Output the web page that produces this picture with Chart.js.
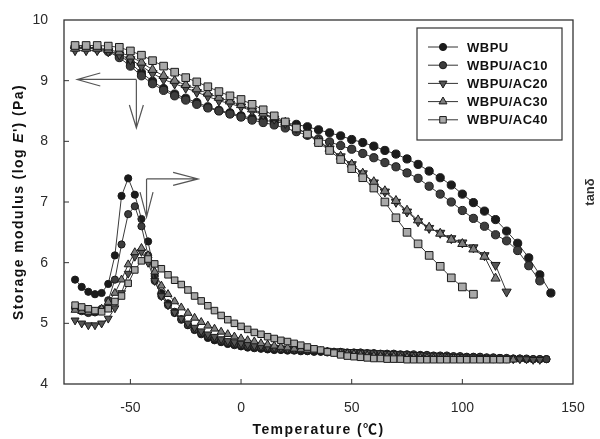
<!DOCTYPE html>
<html>
<head>
<meta charset="utf-8">
<script src="https://cdn.jsdelivr.net/npm/chart.js@4.4.0/dist/chart.umd.min.js"></script>
<style>
  html, body { margin: 0; padding: 0; background: #fff; }
</style>
</head>
<body>
<canvas id="dma" width="600" height="439"></canvas>
<script>
// 温度 (℃) —— 储能模量 E' 的采样点
const eTemp = [-75,-70,-65,-60,-55,-50,-45,-40,-35,-30,-25,-20,-15,-10,-5,0,5,10,15,20,
  25,30,35,40,45,50,55,60,65,70,75,80,85,90,95,100,105,110,115,120,125,130,135,140];

// log E'
const eWBPU = [9.55,9.55,9.54,9.5,9.42,9.29,9.13,8.99,8.87,8.78,8.71,8.64,8.57,8.51,8.47,8.42,8.38,8.35,8.32,8.3,
  8.28,8.24,8.19,8.14,8.09,8.03,7.98,7.92,7.85,7.79,7.71,7.62,7.51,7.4,7.28,7.13,6.99,6.85,6.71,6.52,6.32,6.08,5.8,5.5];
const eAC10 = [9.55,9.55,9.53,9.48,9.38,9.24,9.08,8.95,8.84,8.75,8.68,8.61,8.55,8.5,8.45,8.4,8.35,8.31,8.27,8.22,
  8.16,8.1,8.04,7.99,7.93,7.87,7.8,7.73,7.65,7.58,7.48,7.39,7.26,7.13,7.0,6.86,6.73,6.6,6.46,6.36,6.2,5.95,5.7];
const eAC20 = [9.5,9.5,9.5,9.48,9.43,9.35,9.24,9.12,9.02,8.95,8.88,8.81,8.74,8.67,8.62,8.57,8.5,8.44,8.37,8.3,
  8.22,8.12,8.0,7.88,7.75,7.62,7.47,7.32,7.17,7.0,6.84,6.68,6.57,6.49,6.4,6.33,6.25,6.12,5.96,5.52];
const eAC30 = [9.53,9.53,9.53,9.51,9.47,9.4,9.3,9.18,9.08,9.0,8.93,8.86,8.79,8.72,8.66,8.6,8.53,8.46,8.39,8.31,
  8.22,8.12,8.0,7.88,7.75,7.62,7.47,7.33,7.18,7.02,6.86,6.7,6.58,6.48,6.38,6.31,6.22,6.1,5.74];
const eAC40 = [9.58,9.58,9.58,9.57,9.55,9.49,9.42,9.33,9.24,9.14,9.05,8.98,8.9,8.82,8.75,8.69,8.61,8.52,8.42,8.32,
  8.22,8.12,7.98,7.85,7.7,7.55,7.4,7.23,7.0,6.74,6.5,6.31,6.12,5.94,5.75,5.6,5.48];

// 温度 (℃) —— tanδ 的采样点
const tanTemp = [-75,-72,-69,-66,-63,-60,-57,-54,-51,-48,-45,-42,
  -39,-36,-33,-30,-27,-24,-21,-18,-15,-12,-9,-6,
  -3,0,3,6,9,12,15,18,21,24,27,30,
  33,36,39,42,45,48,51,54,57,60,63,66,
  69,72,75,78,81,84,87,90,93,96,99,102,
  105,108,111,114,117,120,123,126,129,132,135,138];

// tanδ（按图中位置读取，右轴无刻度）
const tanWBPU = [5.72,5.6,5.52,5.48,5.5,5.65,6.12,7.1,7.39,7.12,6.72,6.35,
  5.78,5.5,5.33,5.19,5.07,4.97,4.89,4.82,4.76,4.72,4.69,4.66,
  4.64,4.62,4.6,4.59,4.58,4.57,4.56,4.56,4.55,4.55,4.54,4.54,
  4.53,4.53,4.52,4.52,4.52,4.51,4.51,4.5,4.5,4.5,4.49,4.49,
  4.48,4.48,4.48,4.47,4.47,4.47,4.46,4.46,4.45,4.45,4.45,4.44,
  4.44,4.44,4.43,4.43,4.43,4.42,4.42,4.42,4.41,4.41,4.41,4.41];
const tanAC10 = [5.25,5.2,5.17,5.18,5.24,5.38,5.72,6.3,6.8,6.93,6.6,6.12,
  5.7,5.45,5.3,5.17,5.06,4.97,4.9,4.84,4.79,4.75,4.71,4.68,
  4.66,4.64,4.62,4.61,4.6,4.59,4.58,4.57,4.57,4.56,4.56,4.55,
  4.55,4.54,4.54,4.53,4.53,4.52,4.52,4.52,4.51,4.51,4.5,4.5,
  4.5,4.49,4.49,4.49,4.48,4.48,4.47,4.47,4.47,4.46,4.46,4.45,
  4.45,4.45,4.44,4.44,4.43,4.43,4.42,4.42,4.42,4.41,4.41,4.41];
const tanAC20 = [5.05,5.0,4.97,4.97,5.0,5.08,5.25,5.5,5.82,6.1,6.18,6.0,
  5.7,5.45,5.3,5.18,5.08,5.0,4.93,4.87,4.82,4.78,4.74,4.71,
  4.69,4.67,4.65,4.63,4.62,4.61,4.6,4.59,4.58,4.57,4.57,4.56,
  4.56,4.55,4.55,4.54,4.54,4.53,4.53,4.52,4.52,4.51,4.51,4.5,
  4.5,4.49,4.49,4.48,4.48,4.47,4.47,4.46,4.46,4.45,4.45,4.44,
  4.44,4.43,4.43,4.42,4.42,4.42,4.41,4.41,4.41,4.4,4.4];
const tanAC30 = [5.22,5.2,5.18,5.19,5.24,5.35,5.5,5.72,5.97,6.17,6.24,6.12,
  5.85,5.62,5.48,5.36,5.26,5.17,5.09,5.02,4.96,4.91,4.86,4.82,
  4.78,4.75,4.72,4.7,4.67,4.65,4.63,4.61,4.6,4.58,4.57,4.56,
  4.55,4.54,4.53,4.52,4.51,4.5,4.49,4.48,4.47,4.46,4.46,4.45,
  4.45,4.44,4.44,4.43,4.43,4.43,4.42,4.42,4.42,4.42,4.41,4.41,
  4.41,4.41,4.41,4.41,4.4,4.4,4.4];
const tanAC40 = [5.3,5.27,5.24,5.21,5.19,5.24,5.36,5.45,5.66,5.88,6.03,6.06,
  5.98,5.9,5.8,5.71,5.64,5.55,5.45,5.37,5.29,5.21,5.13,5.06,
  5.0,4.95,4.9,4.85,4.82,4.78,4.75,4.72,4.7,4.67,4.64,4.61,
  4.58,4.56,4.53,4.51,4.48,4.46,4.45,4.44,4.43,4.42,4.42,4.41,
  4.41,4.41,4.4,4.4,4.4,4.4,4.4,4.4,4.4,4.4,4.4,4.4,
  4.4,4.4,4.4,4.4,4.4,4.4];

const xTicks = [-50, 0, 50, 100, 150];
const yTicks = [4, 5, 6, 7, 8, 9, 10];

const FONT = "Arial, 'Liberation Sans', Helvetica, 'Noto Sans CJK SC', sans-serif";
const INK = '#2a2a2a';

// 样式表：名称、标记形状、填充色
const series = [
  { name: 'WBPU',      e: eWBPU, t: tanWBPU, shape: 'circle',   rot: 0,   fill: '#1b1b1b', order: 5 },
  { name: 'WBPU/AC10', e: eAC10, t: tanAC10, shape: 'circle',   rot: 0,   fill: '#3d3d3d', order: 4 },
  { name: 'WBPU/AC20', e: eAC20, t: tanAC20, shape: 'triangle', rot: 180, fill: '#555555', order: 3 },
  { name: 'WBPU/AC30', e: eAC30, t: tanAC30, shape: 'triangle', rot: 0,   fill: '#7d7d7d', order: 2 },
  { name: 'WBPU/AC40', e: eAC40, t: tanAC40, shape: 'rect',     rot: 0,   fill: '#a9a9a9', order: 1 }
];
const bigR = { circle: 4.1, triangle: 5.3, rect: 5.4 };
const smallR = { circle: 3.6, triangle: 4.6, rect: 4.6 };

function pts(temps, vals) {
  return vals.map((v, i) => ({ x: temps[i], y: v }));
}

const datasets = [];
series.forEach(s => {
  const common = {
    label: s.name,
    showLine: true,
    borderColor: '#3a3a3a',
    borderWidth: 1,
    pointStyle: s.shape,
    pointRotation: s.rot,
    pointBackgroundColor: s.fill,
    pointBorderColor: '#1a1a1a',
    pointBorderWidth: 1,
    order: s.order,
    fill: false
  };
  datasets.push(Object.assign({}, common, { data: pts(eTemp, s.e), yAxisID: 'y', pointRadius: bigR[s.shape] }));
  datasets.push(Object.assign({}, common, { data: pts(tanTemp, s.t), yAxisID: 'y2', pointRadius: smallR[s.shape] }));
});

// 画框、向内刻度、坐标轴标题、箭头、图例
const decor = {
  id: 'decor',
  beforeDatasetsDraw(chart) {
    const { ctx, chartArea: a, scales } = chart;
    ctx.save();
    ctx.strokeStyle = '#333';
    ctx.lineWidth = 1.3;
    ctx.strokeRect(a.left, a.top, a.right - a.left, a.bottom - a.top);
    ctx.lineWidth = 1;
    ctx.beginPath();
    xTicks.forEach(v => {
      const px = scales.x.getPixelForValue(v);
      if (px > a.left + 1 && px < a.right - 1) { ctx.moveTo(px, a.bottom); ctx.lineTo(px, a.bottom - 5); }
    });
    yTicks.forEach(v => {
      const py = scales.y.getPixelForValue(v);
      if (py > a.top + 1 && py < a.bottom - 1) { ctx.moveTo(a.left, py); ctx.lineTo(a.left + 5, py); }
    });
    ctx.stroke();
    ctx.restore();
  },
  afterDatasetsDraw(chart) {
    const { ctx, chartArea: a, scales } = chart;
    const X = v => scales.x.getPixelForValue(v);
    const Y = v => scales.y.getPixelForValue(v);
    ctx.save();

    // 箭头
    ctx.strokeStyle = '#555';
    ctx.lineWidth = 1.2;
    function head(tx, ty, dx, dy, len, hw) {
      const bx = tx - dx * len, by = ty - dy * len;
      ctx.moveTo(bx - dy * hw, by + dx * hw); ctx.lineTo(tx, ty); ctx.lineTo(bx + dy * hw, by - dx * hw);
    }
    ctx.beginPath();
    // E' 指向左轴
    const c1x = X(-47.3), c1y = Y(9.02);
    ctx.moveTo(c1x, c1y); ctx.lineTo(X(-74), c1y);
    ctx.moveTo(c1x, c1y); ctx.lineTo(c1x, Y(8.22));
    head(X(-74), c1y, -1, 0, 23, 6.5);
    head(c1x, Y(8.22), 0, 1, 23, 7);
    // tanδ 指向右轴
    const c2x = X(-42.7), c2y = Y(7.38);
    ctx.moveTo(c2x, c2y); ctx.lineTo(X(-19.4), c2y);
    ctx.moveTo(c2x, c2y); ctx.lineTo(c2x, Y(6.75));
    head(X(-19.4), c2y, 1, 0, 25, 6.5);
    head(c2x, Y(6.75), 0, 1, 25, 6.5);
    ctx.stroke();

    // 图例
    const lx = 417, ly = 28, lw = 145, lh = 112;
    ctx.fillStyle = '#fff';
    ctx.fillRect(lx, ly, lw, lh);
    ctx.strokeStyle = '#333';
    ctx.lineWidth = 1.2;
    ctx.strokeRect(lx, ly, lw, lh);
    ctx.font = 'bold 13px ' + FONT;
    ctx.letterSpacing = '0.5px';
    ctx.textBaseline = 'middle';
    ctx.textAlign = 'left';
    series.forEach((s, i) => {
      const ry = ly + 19 + i * 18.2;
      ctx.strokeStyle = '#333';
      ctx.lineWidth = 1;
      ctx.beginPath(); ctx.moveTo(lx + 11, ry); ctx.lineTo(lx + 41, ry); ctx.stroke();
      ctx.fillStyle = s.fill;
      ctx.strokeStyle = '#1a1a1a';
      Chart.helpers.drawPoint(ctx, { pointStyle: s.shape, rotation: s.rot, radius: smallR[s.shape], borderWidth: 1 }, lx + 26, ry);
      ctx.fillStyle = '#111';
      ctx.fillText(s.name, lx + 50, ry + 1);
    });

    // 坐标轴标题
    ctx.fillStyle = '#111';
    ctx.textBaseline = 'middle';
    ctx.font = 'bold 14px ' + FONT;
    ctx.letterSpacing = '1.4px';
    ctx.textAlign = 'center';
    ctx.fillText('Temperature (℃)', (a.left + a.right) / 2, 430);

    // 纵轴标题（E 为斜体）
    const parts = [['Storage modulus (log ', 'bold 14px '], ['E', 'italic bold 14px '], ["') (Pa)", 'bold 14px ']];
    ctx.save();
    ctx.translate(19, (a.top + a.bottom) / 2);
    ctx.rotate(-Math.PI / 2);
    ctx.textAlign = 'left';
    let total = 0;
    parts.forEach(p => { ctx.font = p[1] + FONT; total += ctx.measureText(p[0]).width; });
    let cx = -total / 2;
    parts.forEach(p => { ctx.font = p[1] + FONT; ctx.fillText(p[0], cx, 0); cx += ctx.measureText(p[0]).width; });
    ctx.restore();

    ctx.save();
    ctx.translate(590, 192);
    ctx.rotate(-Math.PI / 2);
    ctx.textAlign = 'center';
    ctx.font = 'bold 13px ' + FONT;
    ctx.letterSpacing = '0px';
    ctx.fillStyle = '#333';
    ctx.fillText('tanδ', 0, 0);
    ctx.restore();

    ctx.restore();
  }
};

new Chart(document.getElementById('dma'), {
  type: 'line',
  data: { datasets },
  plugins: [decor],
  options: {
    responsive: false,
    animation: false,
    devicePixelRatio: 1,
    layout: { padding: { top: 20, left: 0, right: 0, bottom: 0 } },
    plugins: { legend: { display: false }, tooltip: { enabled: false } },
    elements: { line: { tension: 0 } },
    scales: {
      x: {
        type: 'linear', min: -80, max: 150,
        grid: { display: false }, border: { display: false },
        afterBuildTicks: s => { s.ticks = xTicks.map(v => ({ value: v })); },
        afterFit: s => { s.height = 55; },
        ticks: { font: { family: FONT, size: 14 }, color: INK, padding: 8, maxRotation: 0 }
      },
      y: {
        type: 'linear', min: 4, max: 10, position: 'left',
        grid: { display: false }, border: { display: false },
        afterBuildTicks: s => { s.ticks = yTicks.map(v => ({ value: v })); },
        afterFit: s => { s.width = 64; },
        ticks: { font: { family: FONT, size: 14 }, color: INK, padding: 8 }
      },
      y2: {
        type: 'linear', min: 4, max: 10, position: 'right',
        grid: { display: false }, border: { display: false },
        ticks: { display: false },
        afterFit: s => { s.width = 27; }
      }
    }
  }
});
</script>
</body>
</html>
